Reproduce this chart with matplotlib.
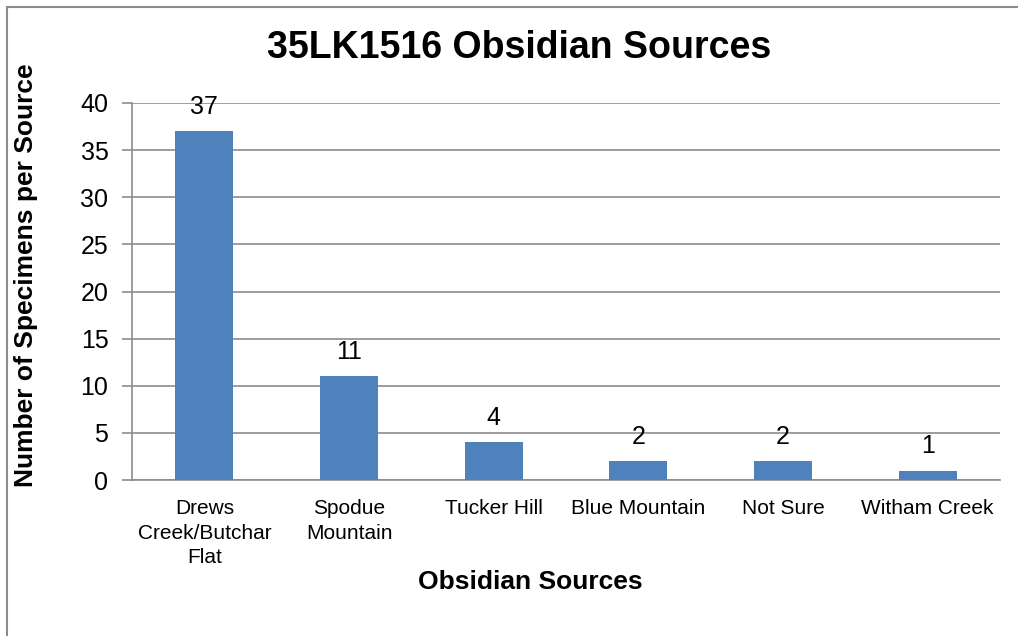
import matplotlib.pyplot as plt
from matplotlib.patches import Rectangle

plt.rcParams['font.family'] = ['Liberation Sans', 'DejaVu Sans']

sources = ["Drews\nCreek/Butchar\nFlat", "Spodue\nMountain", "Tucker Hill",
           "Blue Mountain", "Not Sure", "Witham Creek"]
counts = [37, 11, 4, 2, 2, 1]
yticks = [0, 5, 10, 15, 20, 25, 30, 35, 40]

W, H = 1018, 636
fig = plt.figure(figsize=(W / 100, H / 100), dpi=100)
ax = fig.add_axes([132 / W, 1 - 480 / H, (1000 - 132) / W, (480 - 103) / H])

grid_c = '#8c8c8c'
x = range(len(sources))
bars = ax.bar(x, counts, width=0.4, color='#4f81bd', zorder=3)
for b, v in zip(bars, counts):
    ax.annotate(str(v), (b.get_x() + b.get_width() / 2, v), xytext=(0, 9),
                textcoords='offset points', ha='center', va='bottom',
                fontsize=18, zorder=4)

ax.set_xlim(-0.5, len(sources) - 0.5)
ax.set_ylim(0, 40)
ax.set_yticks(yticks)
ax.yaxis.grid(True, color=grid_c, linewidth=1.2, zorder=0)
ax.set_axisbelow(True)
ax.set_xticks(list(x))
ax.set_xticklabels(sources, fontsize=15, linespacing=1.35)
ax.tick_params(axis='x', length=0, pad=14)
ax.tick_params(axis='y', labelsize=18, length=7, color=grid_c, width=1.2, pad=10)
for s in ['top', 'right']:
    ax.spines[s].set_visible(False)
for s in ['left', 'bottom']:
    ax.spines[s].set_color(grid_c)
    ax.spines[s].set_linewidth(1.2)

fig.text(519 / W, 1 - 48 / H, "35LK1516 Obsidian Sources", ha='center',
         va='center', fontsize=27, fontweight='bold')
fig.text(26 / W, 1 - 275 / H, "Number of Specimens per Source", ha='center',
         va='center', rotation=90, fontsize=19, fontweight='bold')
fig.text(530 / W, 1 - 582 / H, "Obsidian Sources", ha='center', va='center',
         fontsize=19, fontweight='bold')

# chart frame
fig.patches.append(Rectangle((7 / W, -0.1), 1.2, 1 - 7 / H + 0.1,
                             transform=fig.transFigure, fill=False,
                             edgecolor='#8c8c8c', linewidth=1.5))

fig.savefig('out.png', dpi=100)
